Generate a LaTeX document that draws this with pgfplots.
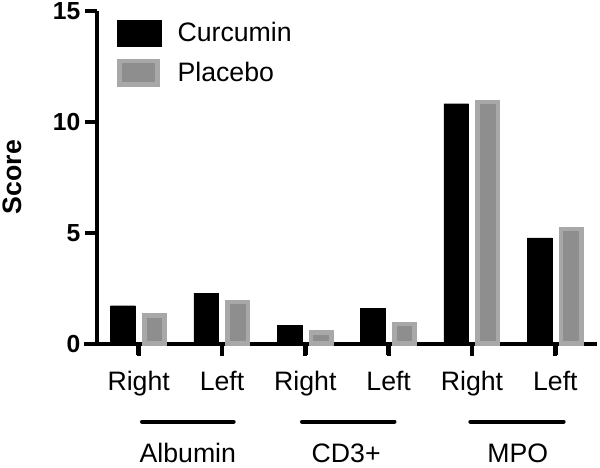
\documentclass[border=0pt]{standalone}
\usepackage{fontspec}
\setmainfont{Liberation Sans}
\usepackage{pgfplots}
\pgfplotsset{compat=1.18}
\definecolor{plfill}{RGB}{142,142,142}
\definecolor{pledge}{RGB}{168,168,168}
\begin{document}
\begin{tikzpicture}
\useasboundingbox (-72.75pt,-93pt) rectangle (377.25pt,257.75pt);
\begin{axis}[
  at={(0,0)}, anchor=south west,
  scale only axis, width=375pt, height=249.75pt,
  xmin=-0.5, xmax=5.5, ymin=0, ymax=15,
  clip=false,
  axis lines*=left,
  axis line style={line width=3pt},
  xtick={0,1,2,3,4,5},
  xticklabels={Right,Left,Right,Left,Right,Left},
  ytick={0,5,10,15},
  tick style={black, line width=3pt},
  major tick length=9pt,
  tick align=outside,
  /pgf/number format/assume math mode=true,
  x tick label style={font=\fontsize{20}{24}\selectfont, yshift=-8pt},
  y tick label style={font=\bfseries\fontsize{18.5}{22}\selectfont},
  ylabel={Score},
  ylabel style={font=\bfseries\fontsize{20}{24}\selectfont, at={(axis description cs:-0.17,0.5)}, anchor=center},
  legend style={at={(axis description cs:0,1)}, anchor=north west, xshift=12pt, yshift=-4.5pt,
    draw=none, fill=none, font=\fontsize{20}{24}\selectfont, row sep=9pt,
    /tikz/every odd column/.append style={column sep=10pt}},
  legend cell align=left,
]
\addplot[ybar, fill=black, draw=black, line width=0.25pt, bar width=18.5pt, bar shift=-11.8pt,
  legend image code/.code={\fill[black] (0pt,-10pt) rectangle (33pt,10pt);}]
  coordinates {(0,1.71) (1,2.28) (2,0.84) (3,1.59) (4,10.81) (5,4.77)};
\addlegendentry{Curcumin}
\addplot[ybar, fill=plfill, draw=pledge, line width=3.5pt, bar width=15.25pt, bar shift=11.8pt,
  legend image code/.code={\draw[fill=plfill, draw=pledge, line width=3.5pt] (1.75pt,-8.75pt) rectangle (30.25pt,8.75pt);}]
  coordinates {(0,1.27) (1,1.87) (2,0.49) (3,0.88) (4,10.88) (5,5.17)};
\addlegendentry{Placebo}
\draw[line width=3pt] (axis cs:-0.66,0) -- (axis cs:-0.5,0);
\pgfplotsinvokeforeach{0,1,2,3,4,5}{
  \draw[line width=3.5pt, black] (axis cs:#1,0) -- ([yshift=-8.5pt]axis cs:#1,0);
}
\draw[line width=3pt, line cap=round] ([yshift=-58.5pt]axis cs:0.04,0) -- ([yshift=-58.5pt]axis cs:1.14,0);
\draw[line width=3pt, line cap=round] ([yshift=-58.5pt]axis cs:1.96,0) -- ([yshift=-58.5pt]axis cs:3.07,0);
\draw[line width=3pt, line cap=round] ([yshift=-58.5pt]axis cs:3.98,0) -- ([yshift=-58.5pt]axis cs:5.10,0);
\node[anchor=base, font=\fontsize{20}{24}\selectfont] at ([yshift=-89.25pt]axis cs:0.59,0) {Albumin};
\node[anchor=base, font=\fontsize{20}{24}\selectfont] at ([yshift=-89.25pt]axis cs:2.49,0) {CD3+};
\node[anchor=base, font=\fontsize{20}{24}\selectfont] at ([yshift=-89.25pt]axis cs:4.55,0) {MPO};
\end{axis}
\end{tikzpicture}
\end{document}
